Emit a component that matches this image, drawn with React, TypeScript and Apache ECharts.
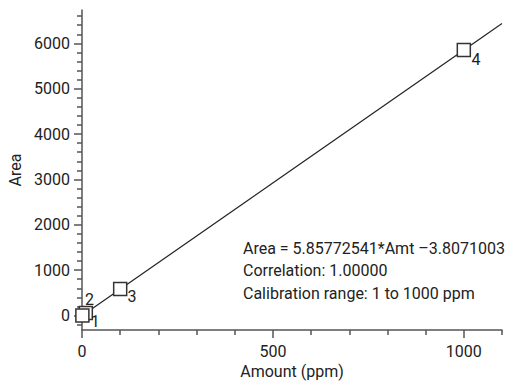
import React, { useEffect, useRef } from "react";
import * as echarts from "echarts";

const amounts = [1, 10, 100, 1000];
const areas = [2, 55, 582, 5854];
const pointNames = ["1", "2", "3", "4"];
const fitAmounts = [0, 1100];
const fitAreas = [-4, 6439];
const xMajorTicks = [0, 500, 1000];
const xMinorTicks = [100, 200, 300, 400, 600, 700, 800, 900, 1100];
const yMajorTicks = [0, 1000, 2000, 3000, 4000, 5000, 6000];
const yMinorTicks = [
  -200, 200, 400, 600, 800, 1200, 1400, 1600, 1800, 2200, 2400, 2600, 2800,
  3200, 3400, 3600, 3800, 4200, 4400, 4600, 4800, 5200, 5400, 5600, 5800,
  6200, 6400, 6600,
];
const annotationLines = [
  "Area = 5.85772541*Amt \u20133.8071003",
  "Correlation: 1.00000",
  "Calibration range: 1 to 1000 ppm",
];

const FONT = "Roboto, 'Liberation Sans', Arial, sans-serif";
const TXT = "#222";
const AXIS = "#555";

// label placement (relative to symbol bounding box), per point
const labelPos: number[][] = [
  [15.5, 13.5],
  [6.5, -6.5],
  [14.5, 15],
  [15, 17],
];
const drawOrder = [1, 0, 2, 3];

export default function App() {
  const ref = useRef<HTMLDivElement>(null);
  useEffect(() => {
    document.body.style.margin = "0";
    const chart = echarts.init(ref.current!, null, { renderer: "svg" });
    const gridBox = { left: 82, right: 3, top: 10, bottom: 57, outerBoundsMode: "none", containLabel: false };
    const yMin = -320;
    const yMax = 6735;
    const plain = (v: number) => String(v);
    const scatterData = drawOrder.map((i) => ({
      value: [amounts[i], areas[i]],
      name: pointNames[i],
      label: {
        show: true,
        formatter: pointNames[i],
        position: labelPos[i],
        align: "left",
        verticalAlign: "middle",
        fontSize: 16,
        fontFamily: FONT,
        color: TXT,
      },
    }));
    chart.setOption({
      animation: false,
      grid: [{ ...gridBox }, { ...gridBox }],
      xAxis: [
        {
          type: "value",
          gridIndex: 0,
          min: 0,
          max: 1100,
          position: "bottom",
          axisLine: { show: true, onZero: false, lineStyle: { color: AXIS, width: 1.5 } },
          axisTick: { show: true, customValues: xMajorTicks, length: 8, lineStyle: { color: AXIS, width: 1.5 } },
          axisLabel: { customValues: xMajorTicks, formatter: plain, margin: 13, fontSize: 16, fontFamily: FONT, color: TXT },
          splitLine: { show: false },
          name: "Amount (ppm)",
          nameLocation: "middle",
          nameGap: 32,
          nameTextStyle: { fontSize: 16, fontFamily: FONT, color: TXT },
        },
        {
          type: "value",
          gridIndex: 1,
          min: 0,
          max: 1100,
          position: "bottom",
          axisLine: { show: false, onZero: false },
          axisTick: { show: true, customValues: xMinorTicks, length: 5, lineStyle: { color: AXIS, width: 1.5 } },
          axisLabel: { show: false },
          splitLine: { show: false },
        },
      ],
      yAxis: [
        {
          type: "value",
          gridIndex: 0,
          min: yMin,
          max: yMax,
          position: "left",
          axisLine: { show: true, onZero: false, lineStyle: { color: AXIS, width: 1.5 } },
          axisTick: { show: true, customValues: yMajorTicks, length: 8, lineStyle: { color: AXIS, width: 1.5 } },
          axisLabel: { customValues: yMajorTicks, formatter: plain, margin: 12, fontSize: 16, fontFamily: FONT, color: TXT },
          splitLine: { show: false },
          name: "Area",
          nameLocation: "middle",
          nameGap: 53,
          nameTextStyle: { fontSize: 16, fontFamily: FONT, color: TXT },
        },
        {
          type: "value",
          gridIndex: 1,
          min: yMin,
          max: yMax,
          position: "left",
          axisLine: { show: false, onZero: false },
          axisTick: { show: true, customValues: yMinorTicks, length: 5, lineStyle: { color: AXIS, width: 1.5 } },
          axisLabel: { show: false },
          splitLine: { show: false },
        },
      ],
      series: [
        {
          type: "line",
          xAxisIndex: 0,
          yAxisIndex: 0,
          data: fitAmounts.map((x, i) => [x, fitAreas[i]]),
          symbol: "none",
          lineStyle: { color: "#222", width: 1.2 },
          z: 2,
        },
        {
          type: "scatter",
          xAxisIndex: 0,
          yAxisIndex: 0,
          symbol: "rect",
          symbolSize: 13,
          itemStyle: { color: "#fff", borderColor: "#333", borderWidth: 1.5, opacity: 1 },
          data: scatterData,
          z: 3,
        },
      ],
      graphic: annotationLines.map((t, i) => ({
        type: "text",
        x: 243,
        y: 248.5 + i * 22.3,
        style: {
          text: t,
          fontSize: 16,
          fontFamily: FONT,
          fill: TXT,
          align: "left",
          verticalAlign: "middle",
        },
      })),
    });
    return () => chart.dispose();
  }, []);
  return <div ref={ref} style={{ width: 505, height: 387 }} />;
}
